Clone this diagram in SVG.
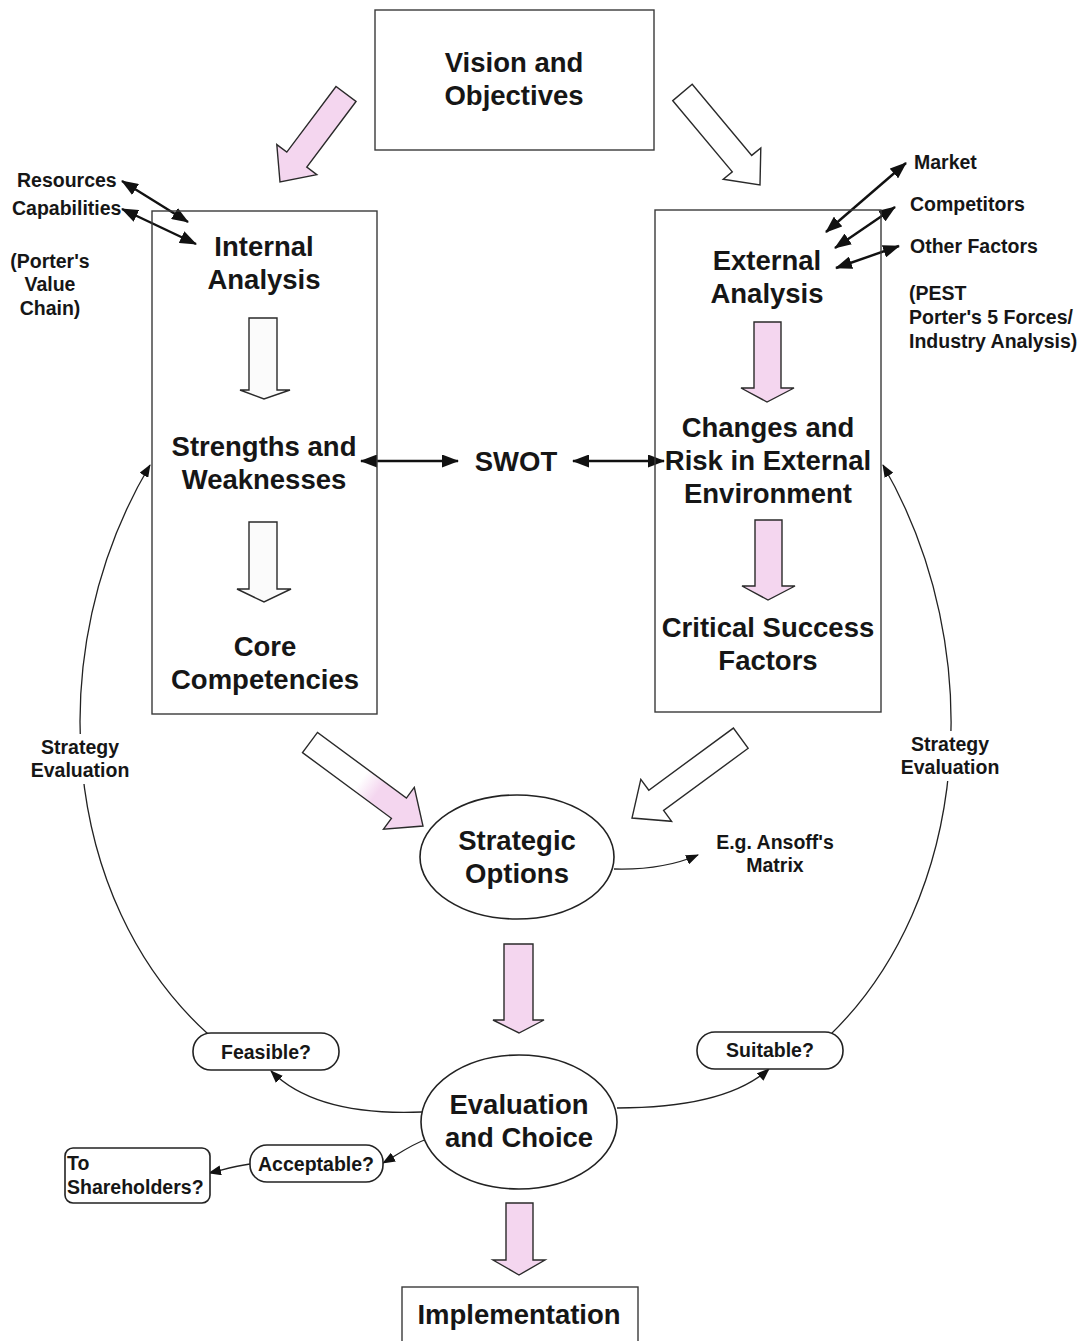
<svg xmlns="http://www.w3.org/2000/svg" width="1087" height="1341" viewBox="0 0 1087 1341">
  <style>
    .box { fill: #ffffff; stroke: #3a3a3a; stroke-width: 1.4; }
    .pill { fill: #ffffff; stroke: #222222; stroke-width: 1.6; }
    .big { font-family: "Liberation Sans", Arial, sans-serif; font-weight: bold; font-size: 27.5px; fill: #161616; text-anchor: middle; }
    .small { font-family: "Liberation Sans", Arial, sans-serif; font-weight: bold; font-size: 19.5px; fill: #161616; }
    .mid { text-anchor: middle; }
    .blk { fill: #ffffff; stroke: #2a2a2a; stroke-width: 1.4; stroke-linejoin: miter; }
    .pink { fill: #f4d6ef; }
    .grey { fill: #fbfbfb; }
    .fade { fill: url(#fadePink); }
    .dbl { fill: none; stroke: #111111; stroke-width: 2.4; marker-start: url(#headL); marker-end: url(#headL); }
    .thin { fill: none; stroke: #222222; stroke-width: 1.3; }
  </style>
  <defs>
    <marker id="headL" markerUnits="userSpaceOnUse" markerWidth="17" markerHeight="13" viewBox="0 0 17 13" refX="16" refY="6.5" orient="auto-start-reverse">
      <path d="M0,0 L17,6.5 L0,13 z" fill="#111111"/>
    </marker>
    <marker id="headS" markerUnits="userSpaceOnUse" markerWidth="13" markerHeight="10" viewBox="0 0 13 10" refX="12" refY="5" orient="auto">
      <path d="M0,0 L13,5 L0,10 z" fill="#111111"/>
    </marker>
    <linearGradient id="fadePink" gradientUnits="userSpaceOnUse" x1="310" y1="742" x2="423" y2="826">
      <stop offset="0.45" stop-color="#ffffff"/>
      <stop offset="0.6" stop-color="#f4d6ef"/>
      <stop offset="1" stop-color="#f4d6ef"/>
    </linearGradient>
  </defs>

  <rect width="1087" height="1341" fill="#ffffff"/>

  <!-- connectors -->
  <g id="connectors">
    <!-- feedback loops back into the analysis boxes -->
    <path class="thin" d="M208,1034 C60,900 40,650 150,465" marker-end="url(#headS)"/>
    <path class="thin" d="M829,1036 C970,900 990,650 883,465" marker-end="url(#headS)"/>
    <!-- SWOT links -->
    <line class="dbl" x1="361" y1="461" x2="458" y2="461"/>
    <line class="dbl" x1="573" y1="461" x2="664" y2="461"/>
    <!-- inputs to internal analysis -->
    <line class="dbl" x1="122" y1="181" x2="188" y2="222"/>
    <line class="dbl" x1="122" y1="209" x2="196" y2="244"/>
    <!-- inputs to external analysis -->
    <line class="dbl" x1="826" y1="232" x2="906" y2="163"/>
    <line class="dbl" x1="835" y1="248" x2="895" y2="207"/>
    <line class="dbl" x1="836" y1="268" x2="899" y2="246"/>
    <!-- option and evaluation links -->
    <path class="thin" d="M614,869 C650,870 675,865 698,855" marker-end="url(#headS)"/>
    <path class="thin" d="M422,1112 C350,1115 300,1100 271,1071" marker-end="url(#headS)"/>
    <path class="thin" d="M617,1108 C690,1108 740,1095 769,1069" marker-end="url(#headS)"/>
    <path class="thin" d="M427,1139 C410,1145 397,1155 383,1163" marker-end="url(#headS)"/>
    <path class="thin" d="M250,1164 C235,1166 222,1170 209,1173" marker-end="url(#headS)"/>

    <!-- block arrows -->
    <polygon class="blk pink" points="356,101.5 306.8,167.1 316.8,174.6 280,182 276.8,144.6 286.8,152.1 336,86.5"/>
    <polygon class="blk" points="672.8,100.7 732.3,171.8 723.2,179.3 760,185 760.8,147.9 751.7,155.4 692.2,84.3"/>
    <polygon class="blk grey" points="249,318 277,318 277,390 290,390 264,399 240,390 249,390"/>
    <polygon class="blk grey" points="249,522 277,522 277,589 291,589 264,602 237,589 249,589"/>
    <polygon class="blk pink" points="754,322 781,322 781,388 794,388 767,402 741,388 754,388"/>
    <polygon class="blk pink" points="755,520 782,520 782,586 795,586 768,600 742,586 755,586"/>
    <polygon class="blk fade" points="302.5,752.6 391.4,818.3 383.5,829.1 423,826 414.3,787.3 406.4,798.1 317.5,732.4"/>
    <polygon class="blk" points="748.2,748.3 663.6,810.4 671.6,821.3 632,818 640.8,779.3 648.8,790.2 733.4,728.1"/>
    <polygon class="blk pink" points="504,944 533,944 533,1020 544,1020 519,1033 493,1020 504,1020"/>
    <polygon class="blk pink" points="506,1203 533,1203 533,1260 545,1260 519,1275 493,1260 506,1260"/>
  </g>

  <!-- nodes -->
  <g id="vision">
    <rect class="box" x="375" y="10" width="279" height="140"/>
    <text class="big" x="514" y="72">Vision and</text>
    <text class="big" x="514" y="105">Objectives</text>
  </g>

  <g id="internal-box">
    <rect class="box" x="152" y="211" width="225" height="503" style="fill:none"/>
    <text class="big" x="264" y="256">Internal</text>
    <text class="big" x="264" y="289">Analysis</text>
  </g>
  <g id="strengths">
    <text class="big" x="264" y="456">Strengths and</text>
    <text class="big" x="264" y="489">Weaknesses</text>
  </g>
  <g id="core">
    <text class="big" x="265" y="656">Core</text>
    <text class="big" x="265" y="689">Competencies</text>
  </g>

  <g id="external-box">
    <rect class="box" x="655" y="210" width="226" height="502" style="fill:none"/>
    <text class="big" x="767" y="270">External</text>
    <text class="big" x="767" y="303">Analysis</text>
  </g>
  <g id="changes">
    <text class="big" x="768" y="437">Changes and</text>
    <text class="big" x="768" y="470">Risk in External</text>
    <text class="big" x="768" y="503">Environment</text>
  </g>
  <g id="csf">
    <text class="big" x="768" y="637">Critical Success</text>
    <text class="big" x="768" y="670">Factors</text>
  </g>

  <g id="swot">
    <text class="big" x="516" y="471">SWOT</text>
  </g>

  <g id="internal-inputs">
    <text class="small" x="17" y="187">Resources</text>
    <text class="small" x="12" y="215">Capabilities</text>
    <text class="small mid" x="50" y="268">(Porter's</text>
    <text class="small mid" x="50" y="291">Value</text>
    <text class="small mid" x="50" y="315">Chain)</text>
  </g>

  <g id="external-inputs">
    <text class="small" x="914" y="169">Market</text>
    <text class="small" x="910" y="211">Competitors</text>
    <text class="small" x="910" y="253">Other Factors</text>
    <text class="small" x="909" y="300">(PEST</text>
    <text class="small" x="909" y="324">Porter's 5 Forces/</text>
    <text class="small" x="909" y="348">Industry Analysis)</text>
  </g>

  <g id="eval-left">
    <rect x="28" y="734" width="104" height="50" fill="#ffffff"/>
    <text class="small mid" x="80" y="754">Strategy</text>
    <text class="small mid" x="80" y="777">Evaluation</text>
  </g>
  <g id="eval-right">
    <rect x="898" y="731" width="104" height="50" fill="#ffffff"/>
    <text class="small mid" x="950" y="751">Strategy</text>
    <text class="small mid" x="950" y="774">Evaluation</text>
  </g>

  <g id="options">
    <ellipse class="pill" cx="517" cy="857" rx="97" ry="62"/>
    <text class="big" x="517" y="850">Strategic</text>
    <text class="big" x="517" y="883">Options</text>
  </g>
  <g id="ansoff">
    <text class="small mid" x="775" y="849">E.g. Ansoff's</text>
    <text class="small mid" x="775" y="872">Matrix</text>
  </g>

  <g id="evaluation">
    <ellipse class="pill" cx="519" cy="1122" rx="98" ry="67"/>
    <text class="big" x="519" y="1114">Evaluation</text>
    <text class="big" x="519" y="1147">and Choice</text>
  </g>

  <g id="feasible">
    <rect class="pill" x="193" y="1033" width="146" height="37" rx="18" ry="18"/>
    <text class="small mid" x="266" y="1059">Feasible?</text>
  </g>
  <g id="suitable">
    <rect class="pill" x="697" y="1032" width="146" height="37" rx="18" ry="18"/>
    <text class="small mid" x="770" y="1057">Suitable?</text>
  </g>
  <g id="acceptable">
    <rect class="pill" x="250" y="1145" width="133" height="37" rx="17" ry="17"/>
    <text class="small mid" x="316" y="1171">Acceptable?</text>
  </g>
  <g id="shareholders">
    <rect class="pill" x="65" y="1148" width="145" height="55" rx="8" ry="8"/>
    <text class="small" x="67" y="1170">To</text>
    <text class="small" x="67" y="1194">Shareholders?</text>
  </g>

  <g id="implementation">
    <rect class="box" x="402" y="1287" width="236" height="70"/>
    <text class="big" x="519" y="1324">Implementation</text>
  </g>
</svg>
